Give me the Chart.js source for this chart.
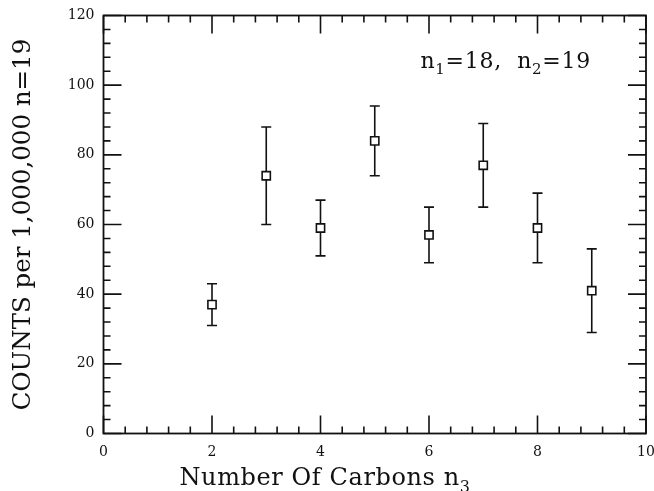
<!DOCTYPE html>
<html>
<head>
<meta charset="utf-8">
<script src="https://cdn.jsdelivr.net/npm/chart.js@4.4.1/dist/chart.umd.min.js"></script>
<style>
  html, body { margin: 0; padding: 0; background: #fff; }
  #wrap { width: 654px; height: 491px; }
</style>
</head>
<body>
<div id="wrap"><canvas id="carbonChart" width="654" height="491"></canvas></div>
<script>
// values
const carbons = [2, 3, 4, 5, 6, 7, 8, 9];
const counts = [37, 74, 59, 84, 57, 77, 59, 41];
const errLow = [31, 60, 51, 74, 49, 65, 49, 29];
const errHigh = [43, 88, 67, 94, 65, 89, 69, 53];

const FONT = 'DejaVu Serif';
const INK = '#111';

// draws a run of text where some pieces are subscripts
const drawSubText = (ctx, x, y, parts, size, spacing) => {
  let cx = x;
  ctx.letterSpacing = spacing + 'px';
  parts.forEach(([txt, sub]) => {
    const fs = sub ? Math.round(size * 0.68) : size;
    ctx.font = `${fs}px "${FONT}"`;
    ctx.fillText(txt, cx, sub ? y + size * 0.28 : y);
    cx += ctx.measureText(txt).width;
  });
};

const frameAndTicks = {
  id: 'frameAndTicks',
  beforeDatasetsDraw(chart) {
    const { ctx, chartArea: a, scales: { x, y } } = chart;
    ctx.save();
    ctx.strokeStyle = INK;
    ctx.lineWidth = 1.6;

    // error bars
    carbons.forEach((c, i) => {
      const px = x.getPixelForValue(c);
      const top = y.getPixelForValue(errHigh[i]);
      const bot = y.getPixelForValue(errLow[i]);
      ctx.beginPath();
      ctx.moveTo(px, top); ctx.lineTo(px, bot);
      ctx.moveTo(px - 5, top); ctx.lineTo(px + 5, top);
      ctx.moveTo(px - 5, bot); ctx.lineTo(px + 5, bot);
      ctx.stroke();
    });

    // inward ticks on all four sides
    ctx.beginPath();
    for (let v = 0; v <= 10.001; v += 0.4) {
      const px = x.getPixelForValue(v);
      const len = Math.abs(v / 2 - Math.round(v / 2)) < 0.01 ? 18 : 7;
      ctx.moveTo(px, a.bottom); ctx.lineTo(px, a.bottom - len);
      ctx.moveTo(px, a.top); ctx.lineTo(px, a.top + len);
    }
    for (let v = 0; v <= 120.001; v += 4) {
      const py = y.getPixelForValue(v);
      const len = Math.abs(v / 20 - Math.round(v / 20)) < 0.01 ? 18 : 7;
      ctx.moveTo(a.left, py); ctx.lineTo(a.left + len, py);
      ctx.moveTo(a.right, py); ctx.lineTo(a.right - len, py);
    }
    ctx.stroke();

    ctx.lineWidth = 1.8;
    ctx.strokeRect(a.left, a.top, a.right - a.left, a.bottom - a.top);
    ctx.restore();
  },
  afterDraw(chart) {
    const { ctx, chartArea: a } = chart;
    ctx.save();
    ctx.fillStyle = INK;
    ctx.textBaseline = 'alphabetic';
    // x axis title, sits left of centre like the original
    drawSubText(ctx, a.left + 76, 485, [['Number Of Carbons n', false], ['3', true]], 24, 0.6);
    // annotation in the upper right
    drawSubText(ctx, a.left + 317, 68, [['n', false], ['1', true], ['=18,  n', false], ['2', true], ['=19', false]], 22, 0.7);
    ctx.restore();
  }
};

const ctx = document.getElementById('carbonChart');
new Chart(ctx, {
  type: 'scatter',
  data: {
    datasets: [{
      data: carbons.map((c, i) => ({ x: c, y: counts[i] })),
      pointStyle: 'rect',
      pointRadius: 5.8,
      pointHoverRadius: 5.8,
      borderColor: INK,
      backgroundColor: '#fff',
      borderWidth: 1.6
    }]
  },
  options: {
    responsive: false,
    animation: false,
    events: [],
    layout: { padding: { left: 0, top: 15.5, right: 8, bottom: 0 } },
    plugins: { legend: { display: false }, tooltip: { enabled: false } },
    scales: {
      x: {
        type: 'linear',
        min: 0, max: 10,
        grid: { display: false, drawTicks: false },
        border: { display: false },
        ticks: { stepSize: 2, padding: 10, color: INK, font: { family: FONT, size: 14 } },
        afterFit: (s) => { s.height = 57.5; s.paddingLeft = 0; s.paddingRight = 0; }
      },
      y: {
        min: 0, max: 120,
        grid: { display: false, drawTicks: false },
        border: { display: false },
        ticks: { stepSize: 20, padding: 9, color: INK, font: { family: FONT, size: 14 } },
        title: {
          display: true,
          text: 'COUNTS per 1,000,000 n=19',
          color: INK,
          font: { family: FONT, size: 24.5 },
          padding: { top: 9, bottom: 0 }
        },
        afterFit: (s) => { s.width = 103.5; s.paddingTop = 0; s.paddingBottom = 0; }
      }
    }
  },
  plugins: [frameAndTicks]
});
</script>
</body>
</html>
